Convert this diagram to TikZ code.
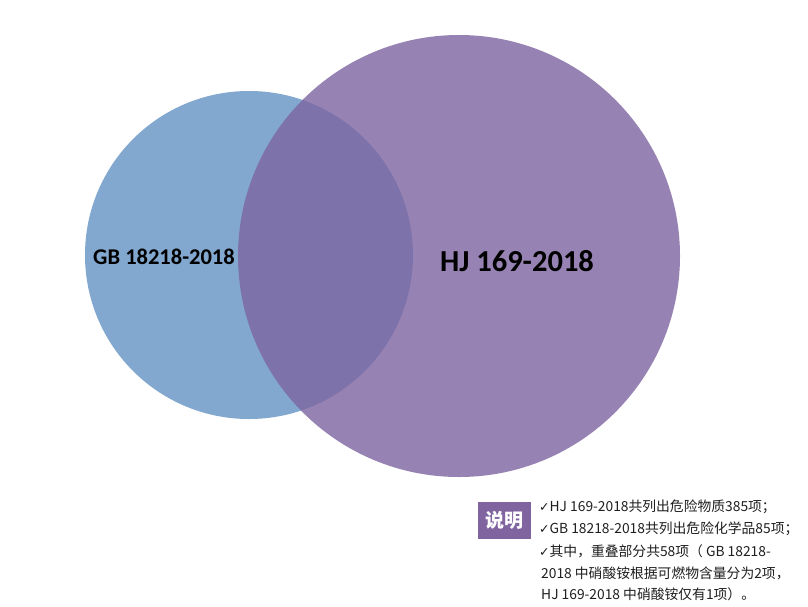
\documentclass[tikz,border=0pt]{standalone}
\usepackage{fontspec}
\setmainfont{Carlito}
\newfontfamily\cjk{Noto Sans CJK SC}
\newfontfamily\sym{DejaVu Sans}
\newcommand{\ck}{{\sym\fontsize{12.5}{12}\selectfont ✓}}
\definecolor{cblue}{RGB}{130,168,208}
\definecolor{cpurple}{RGB}{126,101,161}
\definecolor{cbox}{RGB}{128,100,160}
\begin{document}
\begin{tikzpicture}[x=1pt,y=-1pt,
  note/.style={anchor=west,inner sep=0pt,font=\cjk\fontsize{13.8}{14}\selectfont,text=black!88}]
\useasboundingbox (0,0) rectangle (808,606);
\fill[white] (0,0) rectangle (808,606);
\fill[cblue] (249,255) circle (164);
\fill[cpurple,fill opacity=0.8] (459,256) circle (221);
\node (gb) at (164,257) {\fontsize{22.5}{24}\selectfont\bfseries GB 18218-2018};
\node (hj) at (517,261) {\fontsize{30.5}{32}\selectfont\bfseries HJ 169-2018};
\node[fill=cbox,minimum width=53pt,minimum height=37pt,inner sep=0pt,text=white,font=\cjk\bfseries\fontsize{19}{20}\selectfont] (sm) at (504,520) {说明};
\node[note] (l1) at (539,507) {\ck HJ 169-2018共列出危险物质385项；};
\node[note] (l2) at (539,529) {\ck GB 18218-2018共列出危险化学品85项；};
\node[note] (l3) at (539,551) {\ck 其中，重叠部分共58项（ GB 18218-};
\node[note] (l4) at (541,573) {2018 中硝酸铵根据可燃物含量分为2项，};
\node[note] (l5) at (541,594) {HJ 169-2018 中硝酸铵仅有1项）。};
\end{tikzpicture}
\end{document}
